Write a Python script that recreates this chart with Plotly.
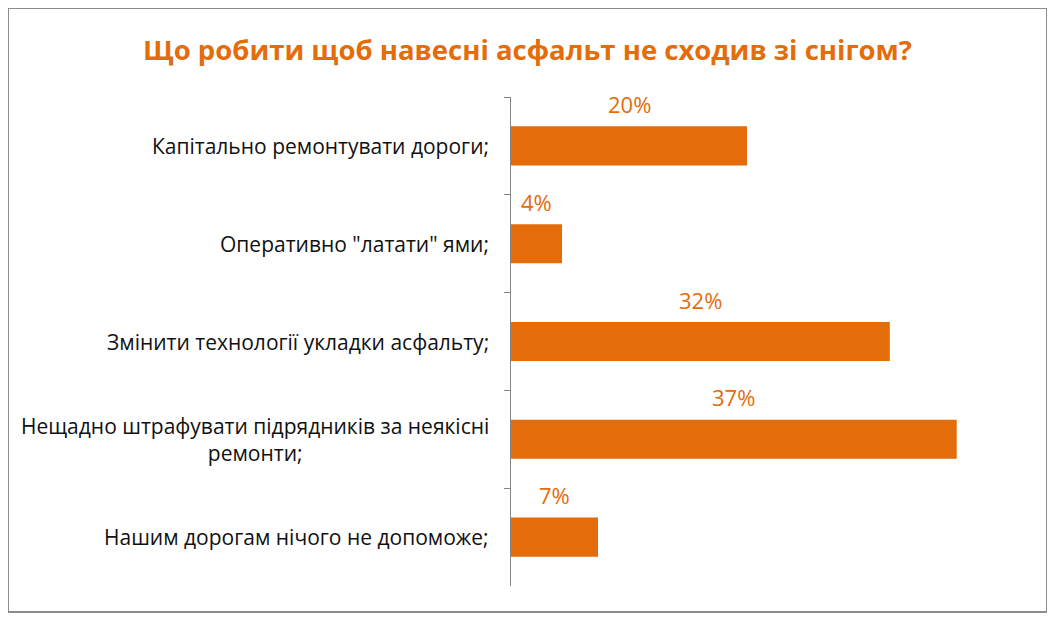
import plotly.graph_objects as go

categories = [
    "Капітально ремонтувати дороги;",
    "Оперативно \"латати\" ями;",
    "Змінити технології укладки асфальту;",
    "Нещадно штрафувати підрядників за неякісні<br>ремонти;",
    "Нашим дорогам нічого не допоможе;",
]
values = [19.75, 4.27, 31.7, 37.3, 7.28]
value_labels = ["20%", "4%", "32%", "37%", "7%"]

title_text = "Що робити щоб навесні асфальт не сходив зі снігом?"
ORANGE = "#E46C0A"
W, H = 1055, 623
OFF = 8  # page body margin
ML, MR, MT, MB = 511 - OFF, 74, 97 - OFF, 623 - (586 - OFF)

fig = go.Figure()
fig.add_trace(go.Bar(
    y=categories, x=values, orientation="h",
    marker=dict(color=ORANGE, line=dict(width=0)),
    width=0.4, hoverinfo="skip",
))

for c, v, t in zip(categories, values, value_labels):
    fig.add_annotation(x=v / 2, y=c, xref="x", yref="y", text=t,
                       showarrow=False, yshift=42,
                       font=dict(family="Open Sans", size=22, color=ORANGE))
    fig.add_annotation(x=0, y=c, xref="x", yref="y", text=c,
                       showarrow=False, xanchor="right", xshift=-20, align="center",
                       font=dict(family="Open Sans", size=21, color="#111111"))

pw = W - ML - MR
ph = H - MT - MB
fig.add_shape(type="rect", xref="paper", yref="paper",
              x0=(8 - OFF - ML) / pw, x1=(1047 - OFF - ML) / pw,
              y0=(H - MB - (612 - OFF)) / ph, y1=(H - MB - (8 - OFF)) / ph,
              line=dict(color="#8c8c8c", width=2), fillcolor="rgba(0,0,0,0)", layer="below")

fig.update_layout(
    width=W, height=H,
    margin=dict(l=ML, r=MR, t=MT, b=MB),
    paper_bgcolor="white", plot_bgcolor="white",
    showlegend=False,
    title=dict(text="<b>" + title_text + "</b>", x=(527.5 - OFF) / W, xref="container",
               xanchor="center", y=1 - (50 - OFF) / H, yref="container", yanchor="middle",
               font=dict(family="Open Sans", size=27.5, color=ORANGE)),
    xaxis=dict(range=[0, 40], visible=False, fixedrange=True),
    yaxis=dict(range=[len(categories) - 0.5, -0.5], autorange=False,
               showticklabels=False, showline=True,
               linecolor="#868686", linewidth=1, ticks="outside", ticklen=6,
               tickcolor="#868686", tickson="boundaries", showgrid=False,
               zeroline=False, fixedrange=True),
    bargap=0.6,
)

fig.write_html("out.html")
